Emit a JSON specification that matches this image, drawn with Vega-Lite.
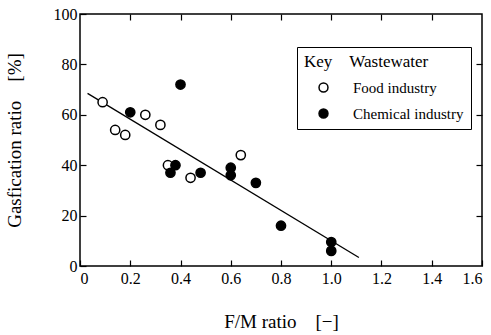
{
  "$schema": "https://vega.github.io/schema/vega-lite/v6.json",
  "width": 402,
  "height": 252,
  "autosize": "none",
  "padding": {"left": 80, "top": 14, "right": 9, "bottom": 69},
  "background": "white",
  "config": {
    "font": "Times New Roman, Liberation Serif, serif",
    "style": {"guide-label": {"font": "Times New Roman, Liberation Serif, serif"}, "guide-title": {"font": "Times New Roman, Liberation Serif, serif"}},
    "view": {"stroke": "black", "strokeWidth": 1.5},
    "axis": {"grid": false, "domain": false, "tickColor": "black", "labelColor": "black", "titleColor": "black", "labelFont": "Times New Roman, Liberation Serif, serif", "titleFont": "Times New Roman, Liberation Serif, serif", "labelFontSize": 16, "titleFontSize": 19, "titleFontWeight": "normal", "tickSize": -6, "tickWidth": 1.2}
  },
  "datasets": {
    "pts": [
      {"fm": 0.09, "gas": 65, "type": "Food industry"},
      {"fm": 0.14, "gas": 54, "type": "Food industry"},
      {"fm": 0.18, "gas": 52, "type": "Food industry"},
      {"fm": 0.26, "gas": 60, "type": "Food industry"},
      {"fm": 0.32, "gas": 56, "type": "Food industry"},
      {"fm": 0.35, "gas": 40, "type": "Food industry"},
      {"fm": 0.44, "gas": 35, "type": "Food industry"},
      {"fm": 0.64, "gas": 44, "type": "Food industry"},
      {"fm": 0.2, "gas": 61, "type": "Chemical industry"},
      {"fm": 0.4, "gas": 72, "type": "Chemical industry"},
      {"fm": 0.38, "gas": 40, "type": "Chemical industry"},
      {"fm": 0.36, "gas": 37, "type": "Chemical industry"},
      {"fm": 0.48, "gas": 37, "type": "Chemical industry"},
      {"fm": 0.6, "gas": 39, "type": "Chemical industry"},
      {"fm": 0.6, "gas": 36, "type": "Chemical industry"},
      {"fm": 0.7, "gas": 33, "type": "Chemical industry"},
      {"fm": 0.8, "gas": 16, "type": "Chemical industry"},
      {"fm": 1.0, "gas": 9.5, "type": "Chemical industry"},
      {"fm": 1.0, "gas": 6, "type": "Chemical industry"}
    ],
    "fit": [
      {"fm": 0.03, "gas": 68.5},
      {"fm": 1.11, "gas": 3.4}
    ]
  },
  "layer": [
    {
      "data": {"name": "fit"},
      "mark": {"type": "line", "color": "black", "strokeWidth": 1.3},
      "encoding": {
        "x": {"field": "fm", "type": "quantitative", "scale": {"domain": [0, 1.6], "nice": false, "zero": false},
          "axis": {"orient": "bottom", "values": [0, 0.2, 0.4, 0.6, 0.8, 1.0, 1.2, 1.4, 1.6], "format": ".1f", "labelExpr": "datum.value == 0 ? '0' : datum.label", "labelFont": "Times New Roman, Liberation Serif, serif", "title": "F/M ratio\u00a0\u00a0\u00a0\u00a0[−]", "titlePadding": 26, "labelPadding": 10}},
        "y": {"field": "gas", "type": "quantitative", "scale": {"domain": [0, 100], "nice": false},
          "axis": {"orient": "left", "values": [0, 20, 40, 60, 80, 100], "labelFont": "Times New Roman, Liberation Serif, serif", "title": "Gasfication ratio\u00a0\u00a0\u00a0\u00a0[%]", "titlePadding": 29, "labelPadding": 9}}
      }
    },
    {
      "data": {"name": "pts"},
      "mark": {"type": "point", "filled": true, "stroke": "black", "strokeWidth": 1.5, "size": 85, "opacity": 1},
      "encoding": {
        "x": {"field": "fm", "type": "quantitative",
          "axis": {"orient": "top", "values": [0.2, 0.4, 0.6, 0.8, 1.0, 1.2, 1.4], "labels": false, "title": null}},
        "y": {"field": "gas", "type": "quantitative",
          "axis": {"orient": "right", "values": [20, 40, 60, 80], "labels": false, "title": null}},
        "fill": {"field": "type", "type": "nominal",
          "scale": {"domain": ["Food industry", "Chemical industry"], "range": ["white", "black"]},
          "legend": {"orient": "none", "legendX": 217, "legendY": 33, "title": "Key\u00a0\u00a0\u00a0\u00a0Wastewater", "titleFont": "Times New Roman, Liberation Serif, serif", "titleFontSize": 17, "titleFontWeight": "normal", "titleColor": "black", "labelFont": "Times New Roman, Liberation Serif, serif", "labelFontSize": 15, "labelColor": "black", "strokeColor": "black", "fillColor": "white", "padding": 7, "symbolStrokeColor": "black", "symbolStrokeWidth": 1.5, "symbolSize": 80, "symbolOffset": 12, "labelOffset": 22, "rowPadding": 10, "titlePadding": 9}}
      }
    }
  ],
  "resolve": {"axis": {"x": "independent", "y": "independent"}}
}
